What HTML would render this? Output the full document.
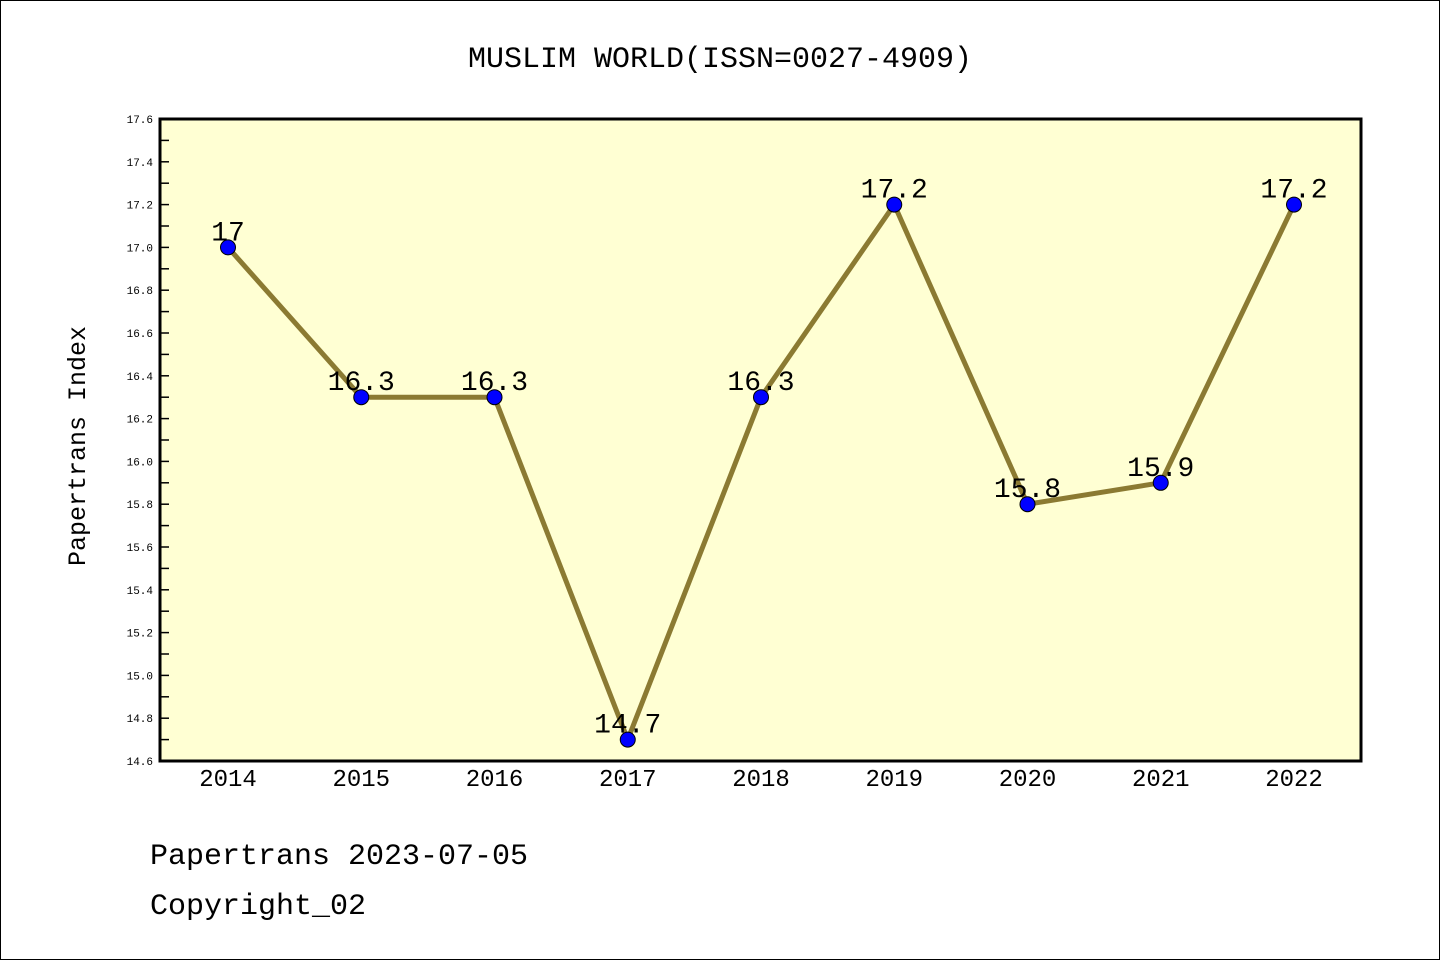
<!DOCTYPE html>
<html><head><meta charset="utf-8"><style>
body{margin:0;background:#fff}
svg{display:block}
text{font-family:"Liberation Mono","DejaVu Sans Mono",monospace}
</style></head><body>
<svg id="chart" width="1440" height="960" xmlns="http://www.w3.org/2000/svg">
<rect x="0.5" y="0.5" width="1439" height="959" fill="#fff" stroke="#000"/>
<text x="720" y="67" text-anchor="middle" font-size="30">MUSLIM WORLD(ISSN=0027-4909)</text>
<rect x="160" y="119" width="1201" height="642" fill="#ffffd3"/>
<g id="axes"></g>
<g id="series"></g>
<rect x="160" y="119" width="1201" height="642" fill="none" stroke="#000" stroke-width="3"/>
<text transform="translate(85,446) rotate(-90)" text-anchor="middle" font-size="25">Papertrans Index</text>
<text x="150" y="864" font-size="30">Papertrans 2023-07-05</text>
<text x="150" y="914" font-size="30">Copyright_02</text>
</svg>
<script>
const years=["2014","2015","2016","2017","2018","2019","2020","2021","2022"];
const values=[17,16.3,16.3,14.7,16.3,17.2,15.8,15.9,17.2];
const valueLabels=["17","16.3","16.3","14.7","16.3","17.2","15.8","15.9","17.2"];
const yTicks=["14.6","14.8","15.0","15.2","15.4","15.6","15.8","16.0","16.2","16.4","16.6","16.8","17.0","17.2","17.4","17.6"];
const NS="http://www.w3.org/2000/svg";
const yMin=14.6,yMax=17.6,plotTop=119,plotBot=761,plotLeft=160;
const yScale=v=>plotBot-(v-yMin)/(yMax-yMin)*(plotBot-plotTop);
const xScale=i=>228+i*(1294-228)/(years.length-1);
function mk(t,a,p){const e=document.createElementNS(NS,t);for(const k in a)e.setAttribute(k,a[k]);p.appendChild(e);return e;}
const ax=document.getElementById('axes'),se=document.getElementById('series');
yTicks.forEach(t=>{const v=parseFloat(t);const yy=yScale(v);
 const l=mk('line',{x1:plotLeft,x2:plotLeft+9,y1:yy,y2:yy,stroke:'#000','stroke-width':1.5},ax);
 
 
 const tx=mk('text',{x:153,y:yy+4,'text-anchor':'end','font-size':11,'font-family':'Liberation Sans, sans-serif'},ax);tx.textContent=t;
 
 
 if(v<yMax-0.01){const m=yScale(v+0.1);const ml=mk('line',{x1:plotLeft,x2:plotLeft+9,y1:m,y2:m,stroke:'#000','stroke-width':1.5},ax);
 
 }
});
years.forEach((yr,i)=>{const tx=mk('text',{x:xScale(i),y:786,'text-anchor':'middle','font-size':24},ax);tx.textContent=yr;
 
 });
const pl=mk('polyline',{points:values.map((v,i)=>xScale(i)+','+yScale(v)).join(' '),fill:'none',stroke:'#8b7a32','stroke-width':5},se);


values.forEach((v,i)=>{const c=mk('circle',{cx:xScale(i),cy:yScale(v),r:7.5,fill:'#0000ff',stroke:'#000','stroke-width':1},se);
 
 
 const t=mk('text',{x:xScale(i),y:yScale(v)-7,'text-anchor':'middle','font-size':28},se);t.textContent=valueLabels[i];
 
 });
</script>
</body></html>
